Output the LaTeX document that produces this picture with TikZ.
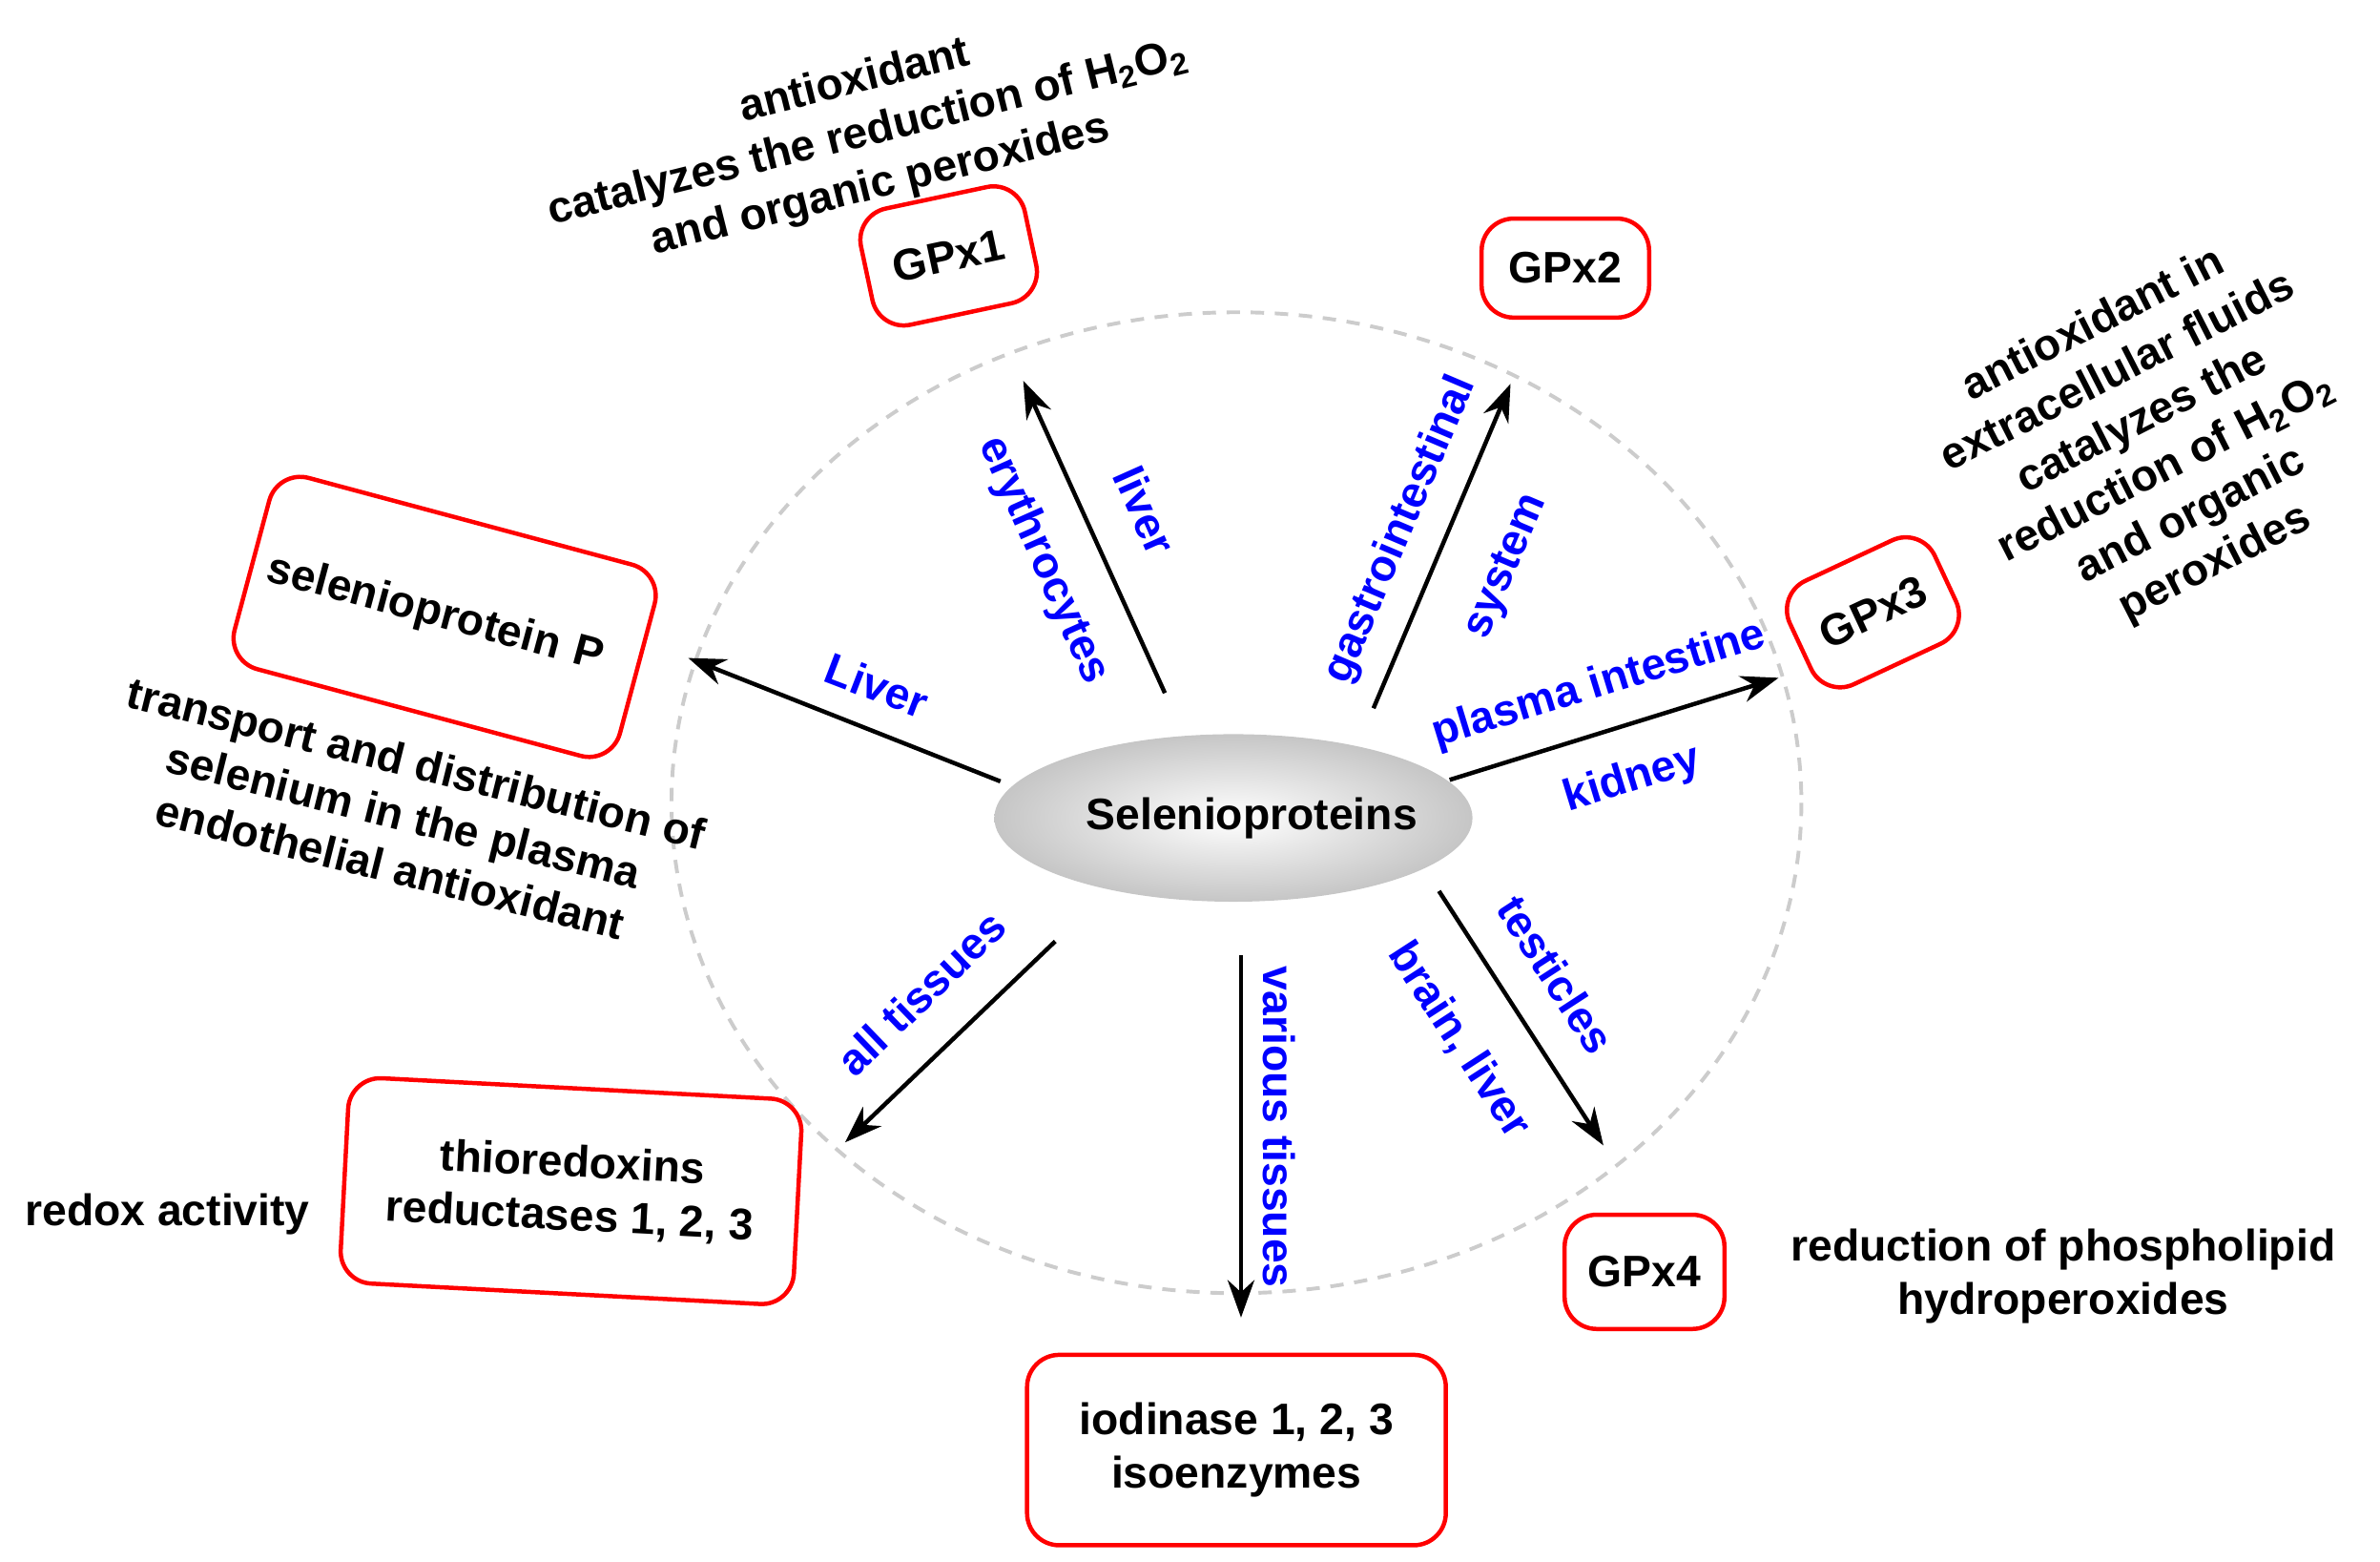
\documentclass[tikz,border=0pt]{standalone}
\usepackage{fontspec}
\setmainfont{Liberation Sans}
\usetikzlibrary{arrows.meta,shapes.geometric}
\newcommand{\htwo}{H\textsubscript{2}O\textsubscript{2}}
\begin{document}
\begin{tikzpicture}[x=0.02cm,y=-0.02cm,
  every node/.style={font=\fontsize{16.5}{20}\selectfont\bfseries},
  box/.style={draw=red,line width=1.6pt,rounded corners=12pt,align=center,inner sep=0pt},
  lab/.style={text=blue},
  txt/.style={align=center},
  arr/.style={line width=1.6pt,-{Stealth[length=14pt,width=10pt]}}]
\useasboundingbox (0,0) rectangle (1563,1025);
\draw[gray!40,dashed,line width=1.4pt,dash pattern=on 5pt off 4pt] (812,527) ellipse [x radius=371,y radius=322];
\node[ellipse,minimum width=314*0.02cm,minimum height=110*0.02cm,inner color=white,outer color=gray!45,draw=none] (c) at (810,537) {};
\node at (822,537) {Selenioproteins};
\node[box,minimum width=110*0.02cm,minimum height=78*0.02cm,rotate=12] (g1) at (623,168) {GPx1};
\node[box,minimum width=110*0.02cm,minimum height=65*0.02cm] (g2) at (1028,176) {GPx2};
\node[box,minimum width=105*0.02cm,minimum height=75*0.02cm,rotate=25] (g3) at (1230,402) {GPx3};
\node[box,minimum width=105*0.02cm,minimum height=75*0.02cm] (g4) at (1080,835) {GPx4};
\node[box,minimum width=275*0.02cm,minimum height=125*0.02cm] (io) at (812,952) {iodinase 1, 2, 3\\isoenzymes};
\node[box,minimum width=298*0.02cm,minimum height=135*0.02cm,rotate=-3] (th) at (375,782) {thioredoxins\\reductases 1, 2, 3};
\node[box,minimum width=262*0.02cm,minimum height=130*0.02cm,rotate=-15,text width=240*0.02cm,align=left] (sp) at (292,405) {selenioprotein P};
\coordinate (a1s) at (765,455); \coordinate (a1e) at (672,250);
\coordinate (a2s) at (902,465); \coordinate (a2e) at (992,252);
\coordinate (a3s) at (952,512); \coordinate (a3e) at (1168,445);
\coordinate (a4s) at (945,585); \coordinate (a4e) at (1053,752);
\coordinate (a5s) at (815,627); \coordinate (a5e) at (815,865);
\coordinate (a6s) at (693,618); \coordinate (a6e) at (555,750);
\coordinate (a7s) at (657,513); \coordinate (a7e) at (452,432);
\foreach \i in {1,...,7}{\draw[arr] (a\i s) -- (a\i e);}
\node[lab,rotate=-66] at (752,335) {liver};
\node[lab,rotate=-66] at (685,368) {erythrocytes};
\node[lab,rotate=67] at (920,348) {gastrointestinal};
\node[lab,rotate=67] at (990,372) {system};
\node[lab,rotate=17] at (1050,450) {plasma intestine};
\node[lab,rotate=17] at (1072,512) {kidney};
\node[lab,rotate=-57] at (1022,640) {testicles};
\node[lab,rotate=-57] at (958,683) {brain, liver};
\node[lab,rotate=-90] at (840,740) {various tissues};
\node[lab,rotate=44] at (605,652) {all tissues};
\node[lab,rotate=-21] at (576,450) {Liver};
\node[txt,rotate=14] at (570,88) {antioxidant\\catalyzes the reduction of \htwo\\and organic peroxides};
\node[txt,rotate=27] at (1415,292) {antioxidant in\\extracellular fluids\\catalyzes the\\reduction of \htwo\\and organic\\peroxides};
\node[txt,rotate=-14] at (265,535) {transport and distribution of\\selenium in the plasma\\endothelial antioxidant};
\node at (110,797) {redox activity};
\node[txt] at (1355,838) {reduction of phospholipid\\hydroperoxides};
\end{tikzpicture}
\end{document}
